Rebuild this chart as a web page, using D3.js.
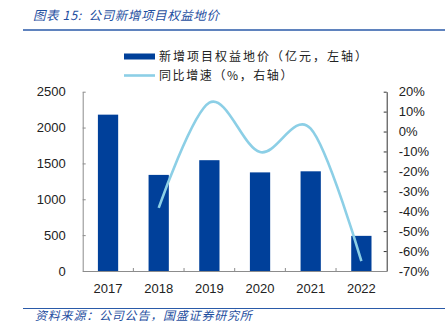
<!DOCTYPE html>
<html><head><meta charset="utf-8">
<script src="https://cdn.jsdelivr.net/npm/d3@7/dist/d3.min.js"></script>
<style>body{margin:0;background:#fff}svg{display:block}</style>
</head><body>
<svg id="c" width="445" height="333"></svg>
<script>
const years = ['2017','2018','2019','2020','2021','2022'];
const landPrice = [2180, 1340, 1545, 1375, 1390, 490];
const growth = [null, -38.3, 14.5, -10.3, 1.5, -65];
const leftTicks = [0, 500, 1000, 1500, 2000, 2500];
const rightTicks = [20, 10, 0, -10, -20, -30, -40, -50, -60, -70];
const titleText = '图表 15:  公司新增项目权益地价';
const sourceText = '资料来源：公司公告，国盛证券研究所';
const legendBar = '新增项目权益地价（亿元，左轴）';
const legendLine = '同比增速（%，右轴）';

const svg = d3.select('#c');
const L = 82.7, R = 386.7, T = 91.7, B = 271;
const cjk = '"Noto Sans CJK SC", sans-serif';
const num = '"Liberation Sans", Arial, sans-serif';
const titleBlue = '#1f4f9f';

// title + header line
svg.append('text').attr('x', 33).attr('y', 20).text(titleText)
  .style('white-space', 'pre')
  .attr('font-family', cjk).attr('font-size', 12.5).attr('font-style', 'italic')
  .attr('fill', titleBlue).attr('letter-spacing', 0.6);
svg.append('line').attr('x1', 23).attr('x2', 445).attr('y1', 30).attr('y2', 30)
  .attr('stroke', '#2a5aa8').attr('stroke-width', 1.5);

// footer
svg.append('line').attr('x1', 23).attr('x2', 445).attr('y1', 308.5).attr('y2', 308.5)
  .attr('stroke', '#2a5aa8').attr('stroke-width', 1.2);
svg.append('text').attr('x', 35).attr('y', 320).text(sourceText)
  .attr('font-family', cjk).attr('font-size', 12).attr('font-style', 'italic')
  .attr('fill', titleBlue).attr('letter-spacing', 0.8);

// scales
const x = d3.scaleBand().domain(years).range([L, R]).paddingInner(0).paddingOuter(0);
const yL = d3.scaleLinear().domain([0, 2500]).range([B, T]);
const yR = d3.scaleLinear().domain([-70, 20]).range([B, T]);

// bars
const barW = x.bandwidth() * 0.4;
svg.append('g').selectAll('rect').data(years).join('rect')
  .attr('x', d => x(d) + (x.bandwidth() - barW) / 2)
  .attr('y', (d, i) => yL(landPrice[i]))
  .attr('width', barW)
  .attr('height', (d, i) => B - yL(landPrice[i]))
  .attr('fill', '#00409a');

// left axis
const gL = svg.append('g').attr('transform', `translate(${L},0)`)
  .call(d3.axisLeft(yL).tickValues(leftTicks).tickFormat(d3.format('d')).tickSizeInner(-3).tickSizeOuter(0).tickPadding(17));
gL.select('.domain').attr('stroke', '#8c8c8c');
gL.selectAll('.tick line').attr('stroke', '#8c8c8c');
gL.selectAll('text').attr('font-family', num).attr('font-size', 13).attr('fill', '#222');

// right axis
const gR = svg.append('g').attr('transform', `translate(${R},0)`)
  .call(d3.axisRight(yR).tickValues(rightTicks).tickFormat(d => d + '%').tickSizeInner(-3).tickSizeOuter(0).tickPadding(12));
gR.select('.domain').attr('stroke', '#333');
gR.selectAll('.tick line').attr('stroke', '#333');
gR.selectAll('text').attr('font-family', num).attr('font-size', 13).attr('fill', '#222');

// bottom axis
const gB = svg.append('g').attr('transform', `translate(0,${B})`)
  .call(d3.axisBottom(x).tickSize(0).tickPadding(13));
gB.select('.domain').attr('stroke', '#8c8c8c');
gB.selectAll('text').attr('font-family', num).attr('font-size', 13).attr('fill', '#222');
// category boundary ticks
svg.append('g').selectAll('line').data(years.slice(1)).join('line')
  .attr('x1', d => x(d)).attr('x2', d => x(d))
  .attr('y1', B).attr('y2', B - 3).attr('stroke', '#8c8c8c');

// line
const pts = years.map((d, i) => [x(d) + x.bandwidth() / 2, growth[i]]).filter(p => p[1] !== null);
svg.append('path').datum(pts)
  .attr('d', d3.line().x(p => p[0]).y(p => yR(p[1])).curve(d3.curveCatmullRom.alpha(0)))
  .attr('fill', 'none').attr('stroke', '#8ccfe6').attr('stroke-width', 2.6);

// legend
svg.append('rect').attr('x', 124).attr('y', 53.5).attr('width', 31).attr('height', 6).attr('fill', '#00409a');
svg.append('text').attr('x', 159).attr('y', 61).text(legendBar)
  .attr('font-family', cjk).attr('font-size', 12).attr('fill', '#222').attr('letter-spacing', 2);
svg.append('line').attr('x1', 124).attr('x2', 155).attr('y1', 75.5).attr('y2', 75.5)
  .attr('stroke', '#8ccfe6').attr('stroke-width', 2.6);
svg.append('text').attr('x', 159).attr('y', 80).text(legendLine)
  .attr('font-family', cjk).attr('font-size', 12).attr('fill', '#222').attr('letter-spacing', 1.6);
</script>
</body></html>
